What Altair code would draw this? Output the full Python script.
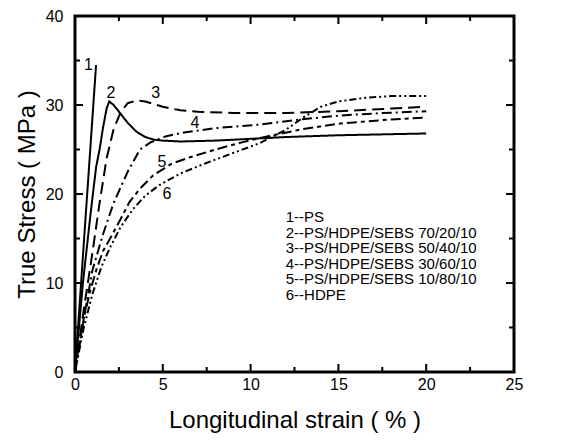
import altair as alt
import pandas as pd

FONT = "Liberation Sans"

# ---- data ----
c1_x = [0, 0.6, 1.2]
c1_y = [0, 17.3, 34.5]

c2_x = [0, 0.45, 0.9, 1.2, 1.4, 1.6, 1.8, 1.95, 2.2, 2.6, 3.0, 3.5, 4.0, 4.5, 5.0, 6.0, 8.0, 10.0, 12.0, 15.0, 20.0]
c2_y = [0, 10.0, 18.0, 23.0, 25.0, 27.5, 29.6, 30.4, 30.0, 29.0, 28.0, 27.0, 26.4, 26.1, 26.0, 25.9, 26.0, 26.2, 26.4, 26.6, 26.8]

c3_x = [0, 0.5, 1.0, 1.4, 1.8, 2.2, 2.6, 3.0, 3.5, 4.0, 4.5, 5.0, 6.0, 7.0, 9.0, 12.0, 15.0, 18.0, 20.0]
c3_y = [0, 7.0, 13.5, 19.0, 24.0, 27.3, 29.2, 30.2, 30.5, 30.4, 30.1, 29.8, 29.4, 29.25, 29.1, 29.1, 29.3, 29.6, 29.8]

c4_x = [0, 0.5, 1.0, 1.6, 2.2, 3.0, 3.7, 4.3, 5.2, 6.2, 8.0, 10.5, 12.5, 15.0, 17.5, 20.0]
c4_y = [0, 6.0, 11.5, 15.5, 19.0, 22.5, 25.0, 25.8, 26.5, 26.9, 27.4, 27.8, 28.3, 28.8, 29.1, 29.3]

c5_x = [0, 0.5, 0.85, 1.25, 1.6, 2.0, 2.6, 3.1, 3.7, 4.45, 5.5, 6.5, 8.0, 9.5, 11.0, 13.0, 15.0, 17.5, 20.0]
c5_y = [0, 6.0, 9.0, 11.7, 13.6, 15.0, 17.2, 19.1, 20.6, 22.1, 23.4, 24.1, 25.0, 25.8, 26.5, 27.3, 27.9, 28.3, 28.6]

c6_x = [0, 0.5, 1.0, 1.5, 2.0, 2.6, 3.3, 4.0, 4.8, 6.0, 7.5, 9.0, 10.5, 12.0, 13.0, 14.0, 15.0, 16.5, 18.0, 20.0]
c6_y = [0, 5.0, 8.8, 11.8, 14.0, 16.3, 18.3, 19.8, 21.0, 22.3, 23.5, 24.6, 25.7, 27.2, 28.6, 29.8, 30.4, 30.8, 31.0, 31.0]

series_ids = ["1", "2", "3", "4", "5", "6"]
series_x = [c1_x, c2_x, c3_x, c4_x, c5_x, c6_x]
series_y = [c1_y, c2_y, c3_y, c4_y, c5_y, c6_y]
dash_patterns = [[1, 0], [1, 0], [12, 6], [10, 4, 2, 4], [10, 4, 4, 4], [7, 3, 2, 3, 2, 3]]

curve_label_text = ["1", "2", "3", "4", "5", "6"]
curve_label_x = [0.76, 2.05, 4.6, 6.83, 4.95, 5.24]
curve_label_y = [34.5, 31.4, 31.4, 28.0, 23.6, 20.0]

legend_text = ["1--PS",
               "2--PS/HDPE/SEBS 70/20/10",
               "3--PS/HDPE/SEBS 50/40/10",
               "4--PS/HDPE/SEBS 30/60/10",
               "5--PS/HDPE/SEBS 10/80/10",
               "6--HDPE"]
legend_x = [12.0] * 6
legend_y = [17.4, 15.65, 13.9, 12.15, 10.4, 8.65]

x_major = [0, 5, 10, 15, 20, 25]
x_minor = [2.5, 7.5, 12.5, 17.5, 22.5]
y_major = [0, 10, 20, 30, 40]
y_minor = [5, 15, 25, 35]

X_MIN, X_MAX = 0, 25
Y_MIN, Y_MAX = 0, 40
X_TITLE = "Longitudinal strain ( % )"
Y_TITLE = "True Stress ( MPa )"

W, H = 439, 356
MAJ_PX, MIN_PX = 8, 5
px_x = W / (X_MAX - X_MIN)
px_y = H / (Y_MAX - Y_MIN)

# ---- tables ----
rows = []
for sid, xs, ys in zip(series_ids, series_x, series_y):
    for i, (xv, yv) in enumerate(zip(xs, ys)):
        rows.append({"s": sid, "k": "c" + sid, "x": xv, "y": yv, "o": i})

# inward tick marks on all four sides, drawn as short solid segments
n = 0
for vals, px in ((x_major, MAJ_PX), (x_minor, MIN_PX)):
    L = px / px_y
    for v in vals:
        for a, b in ((Y_MIN, Y_MIN + L), (Y_MAX, Y_MAX - L)):
            rows.append({"s": "1", "k": "t%d" % n, "x": v, "y": a, "o": 0})
            rows.append({"s": "1", "k": "t%d" % n, "x": v, "y": b, "o": 1})
            n += 1
for vals, px in ((y_major, MAJ_PX), (y_minor, MIN_PX)):
    L = px / px_x
    for v in vals:
        for a, b in ((X_MIN, X_MIN + L), (X_MAX, X_MAX - L)):
            rows.append({"s": "1", "k": "t%d" % n, "x": a, "y": v, "o": 0})
            rows.append({"s": "1", "k": "t%d" % n, "x": b, "y": v, "o": 1})
            n += 1

df = pd.DataFrame(rows)
lab_df = pd.DataFrame({"t": curve_label_text, "x": curve_label_x, "y": curve_label_y})
leg_df = pd.DataFrame({"t": legend_text, "x": legend_x, "y": legend_y})

xs_scale = alt.Scale(domain=[X_MIN, X_MAX], nice=False, zero=False)
ys_scale = alt.Scale(domain=[Y_MIN, Y_MAX], nice=False, zero=False)

x_axis = alt.Axis(values=x_major, ticks=False, tickSize=0, domain=False, grid=False,
                  labelFont=FONT, labelFontSize=16, labelColor="black", labelPadding=4,
                  labelFlush=False, format="d",
                  title=X_TITLE, titleFont=FONT, titleFontSize=24,
                  titleFontWeight="normal", titleColor="black", titlePadding=16)
y_axis = alt.Axis(values=y_major, ticks=False, tickSize=0, domain=False, grid=False,
                  labelFont=FONT, labelFontSize=16, labelColor="black", labelPadding=12,
                  labelFlush=False, format="d",
                  title=Y_TITLE, titleFont=FONT, titleFontSize=24,
                  titleFontWeight="normal", titleColor="black", titlePadding=6)


def X(field):
    return alt.X(field, scale=xs_scale, axis=x_axis, title=X_TITLE)


def Y(field):
    return alt.Y(field, scale=ys_scale, axis=y_axis, title=Y_TITLE)


lines = alt.Chart(df).mark_line(color="black", strokeWidth=2).encode(
    x=X("x:Q"),
    y=Y("y:Q"),
    strokeDash=alt.StrokeDash("s:N", scale=alt.Scale(domain=series_ids, range=dash_patterns), legend=None),
    detail="k:N",
    order="o:Q",
)

labels = alt.Chart(lab_df).mark_text(font=FONT, fontSize=16, color="black",
                                     align="center", baseline="middle").encode(
    x=X("x:Q"), y=Y("y:Q"), text="t:N",
)

legend = alt.Chart(leg_df).mark_text(font=FONT, fontSize=15, color="black",
                                     align="left", baseline="middle").encode(
    x=X("x:Q"), y=Y("y:Q"), text="t:N",
)

chart = alt.layer(lines, labels, legend).properties(
    width=W, height=H,
    padding={"left": 67, "top": 8, "right": 50, "bottom": 62},
    autosize=alt.AutoSizeParams(type="none"),
).configure_view(stroke="black", strokeWidth=3)

chart.save("out.html", embed_options={"renderer": "svg", "actions": False})
